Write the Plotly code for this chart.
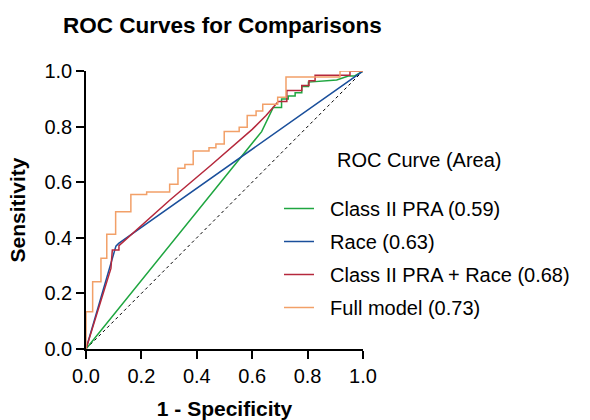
import plotly.graph_objects as go

# ---- data ----
green_x = [0, 0.634, 0.676, 0.706, 0.706, 0.730, 0.730, 0.755, 0.755, 0.779, 0.779, 0.803, 0.803, 0.905, 0.947, 0.97, 1.0]
green_y = [0, 0.782, 0.869, 0.869, 0.899, 0.899, 0.910, 0.910, 0.922, 0.922, 0.944, 0.944, 0.960, 0.968, 0.982, 0.982, 1.0]

blue_x = [0, 0.10, 0.108, 0.118, 1.0]
blue_y = [0, 0.34, 0.37, 0.38, 1.0]

red_x = [0, 0.09, 0.095, 0.119, 0.119, 0.20, 0.303, 0.45, 0.60, 0.65, 0.694, 0.725, 0.725, 0.779, 0.779, 0.805, 0.805, 0.827, 0.827, 0.953, 0.953, 1.0]
red_y = [0, 0.29, 0.356, 0.356, 0.372, 0.445, 0.536, 0.66, 0.79, 0.84, 0.89, 0.89, 0.93, 0.93, 0.948, 0.948, 0.965, 0.965, 0.985, 0.985, 1.0, 1.0]

# step points (horizontal then vertical)
orange_x = [0, 0, 0.024, 0.054, 0.075, 0.107, 0.162, 0.219, 0.302, 0.332, 0.357, 0.387, 0.444, 0.469, 0.499, 0.553, 0.582, 0.614, 0.638, 0.692, 0.722, 0.917, 1.0]
orange_y = [0, 0.134, 0.242, 0.326, 0.413, 0.494, 0.556, 0.565, 0.593, 0.650, 0.664, 0.712, 0.724, 0.737, 0.782, 0.798, 0.840, 0.856, 0.880, 0.906, 0.978, 1.0, 1.0]

ref_x = [0, 1]
ref_y = [0, 1]

names = ["Class II PRA (0.59)", "Race (0.63)", "Class II PRA + Race (0.68)", "Full model (0.73)"]
colors = ["#1fa640", "#1a4f9b", "#b5283c", "#f2a068"]
tick_vals = [0, 0.2, 0.4, 0.6, 0.8, 1.0]
tick_text = ["0.0", "0.2", "0.4", "0.6", "0.8", "1.0"]

FONT = "Liberation Sans, Arial, Helvetica, sans-serif"

fig = go.Figure()
fig.add_trace(go.Scatter(x=ref_x, y=ref_y, mode="lines", showlegend=False,
                         line=dict(color="black", width=1, dash="dot"), hoverinfo="skip"))
series = [(green_x, green_y, "linear"), (blue_x, blue_y, "linear"),
          (red_x, red_y, "linear"), (orange_x, orange_y, "hv")]
for i, (xs, ys, shape) in enumerate(series):
    fig.add_trace(go.Scatter(x=xs, y=ys, mode="lines", name="&nbsp;&nbsp;" + names[i],
                             legendgroup=f"g{i}",
                             line=dict(color=colors[i], width=1.5, shape=shape)))

axis_common = dict(range=[0, 1], tickvals=tick_vals, ticktext=tick_text,
                   showline=True, linecolor="black", linewidth=1.5,
                   ticks="outside", ticklen=8, tickwidth=1.5, tickcolor="black",
                   showgrid=False, zeroline=False, automargin=False,
                   tickfont=dict(family=FONT, size=20, color="black"))

fig.update_layout(
    width=590, height=420,
    margin=dict(l=86, r=590 - 86 - 277, t=71, b=420 - 71 - 278),
    plot_bgcolor="white", paper_bgcolor="white",
    title=dict(text="<b>ROC Curves for Comparisons</b>", x=63 / 590, xanchor="left",
               y=1 - 25 / 420, yanchor="middle",
               font=dict(family=FONT, size=22.5, color="black")),
    xaxis=dict(title=dict(text="<b>1 - Specificity</b>", standoff=18,
                          font=dict(family=FONT, size=21, color="black")), **axis_common),
    yaxis=dict(title=dict(text="<b>Sensitivity</b>", standoff=13,
                          font=dict(family=FONT, size=21, color="black")), **axis_common),
    legend=dict(x=(279 - 86) / 277, xanchor="left", y=(349 - 189) / 278, yanchor="top",
                traceorder="grouped", tracegroupgap=4, itemwidth=30,
                font=dict(family=FONT, size=20, color="black"), bgcolor="rgba(0,0,0,0)"),
    annotations=[dict(text="ROC Curve (Area)", x=(335 - 86) / 277, y=(349 - 160) / 278,
                      xref="paper", yref="paper", xanchor="left", yanchor="middle",
                      showarrow=False, font=dict(family=FONT, size=20, color="black"))],
)

fig.write_html("out.html", config={"displayModeBar": False},
               post_script="document.body.style.margin='0';")
